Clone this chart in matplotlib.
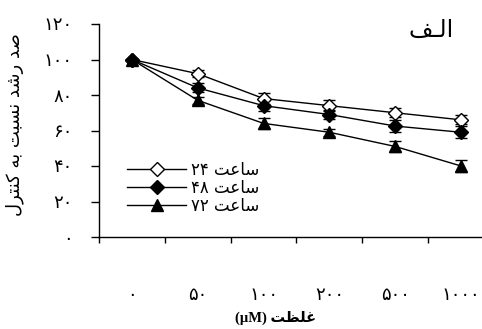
import matplotlib
matplotlib.use("Agg")
import matplotlib.pyplot as plt
from matplotlib.lines import Line2D

# ---------------- data ----------------
categories = ['۰', '۵۰', '۱۰۰', '۲۰۰', '۵۰۰', '۱۰۰۰']
h24 = [100, 92, 78, 74, 70, 66]
h48 = [100, 84, 74, 69, 62.5, 59]
h72 = [100, 77, 64, 59, 51, 40]
e24 = [0.5, 2, 3, 3, 2.5, 2.5]
e48 = [0.5, 2.5, 3, 2.5, 3.5, 3.5]
e72 = [0.5, 2, 3, 2, 3, 3.5]
series_labels = ['ساعت ۲۴', 'ساعت ۴۸', 'ساعت ۷۲']
yticks = [0, 20, 40, 60, 80, 100, 120]
ytick_labels = ['۰', '۲۰', '۴۰', '۶۰', '۸۰', '۱۰۰', '۱۲۰']
ylabel = 'صد رشد نسبت به کنترل'
xlabel = 'غلظت (µM)'
title = 'الـف'

# ---------------- minimal Arabic shaping for display ----------------
FORMS = {
    'ا': ('\uFE8D', '\uFE8E', '\uFE8D', '\uFE8E'),
    'ب': ('\uFE8F', '\uFE90', '\uFE91', '\uFE92'),
    'ت': ('\uFE95', '\uFE96', '\uFE97', '\uFE98'),
    'د': ('\uFEA9', '\uFEAA', '\uFEA9', '\uFEAA'),
    'ر': ('\uFEAD', '\uFEAE', '\uFEAD', '\uFEAE'),
    'س': ('\uFEB1', '\uFEB2', '\uFEB3', '\uFEB4'),
    'ش': ('\uFEB5', '\uFEB6', '\uFEB7', '\uFEB8'),
    'ص': ('\uFEB9', '\uFEBA', '\uFEBB', '\uFEBC'),
    'ظ': ('\uFEC5', '\uFEC6', '\uFEC7', '\uFEC8'),
    'ع': ('\uFEC9', '\uFECA', '\uFECB', '\uFECC'),
    'غ': ('\uFECD', '\uFECE', '\uFECF', '\uFED0'),
    'ف': ('\uFED1', '\uFED2', '\uFED3', '\uFED4'),
    'ل': ('\uFEDD', '\uFEDE', '\uFEDF', '\uFEE0'),
    'ن': ('\uFEE5', '\uFEE6', '\uFEE7', '\uFEE8'),
    'ه': ('\uFEE9', '\uFEEA', '\uFEEB', '\uFEEC'),
    'ک': ('\uFB8E', '\uFB8F', '\uFB90', '\uFB91'),
}
RIGHT_ONLY = set('اآأإدذرزژو')
TATWEEL = '\u0640'


def _dual(c):
    return c == TATWEEL or (c in FORMS and c not in RIGHT_ONLY)


def _joining(c):
    return c == TATWEEL or c in FORMS


def _shape_word(w):
    out = []
    for i, c in enumerate(w):
        if c not in FORMS:
            out.append(c)
            continue
        prev = w[i - 1] if i > 0 else None
        nxt = w[i + 1] if i + 1 < len(w) else None
        jp = prev is not None and _dual(prev)
        jn = _dual(c) and nxt is not None and _joining(nxt)
        iso, fin, ini, med = FORMS[c]
        if jp and jn:
            out.append(med)
        elif jp:
            out.append(fin)
        elif jn:
            out.append(ini)
        else:
            out.append(iso)
    return ''.join(reversed(out))


def vis(text):
    toks = text.split(' ')
    res = []
    for t in reversed(toks):
        if any(ch in FORMS or ch == TATWEEL for ch in t):
            res.append(_shape_word(t))
        else:
            res.append(t)
    return ' '.join(res)


# ---------------- figure ----------------
plt.rcParams['font.family'] = ['Liberation Serif', 'DejaVu Sans']
fig = plt.figure(figsize=(4.82, 3.29), dpi=100)
ax = fig.add_axes([99 / 482, 92 / 329, 395 / 482, 213 / 329])

x = list(range(len(categories)))
common = dict(color='black', lw=1.0, capsize=4.5, elinewidth=1.0, capthick=1.0)
ax.errorbar(x, h24, yerr=e24, marker='D', ms=7, mfc='white', mec='black', mew=1.0,
            label=vis(series_labels[0]), **common)
ax.errorbar(x, h48, yerr=e48, marker='D', ms=7, mfc='black', mec='black',
            label=vis(series_labels[1]), **common)
ax.errorbar(x, h72, yerr=e72, marker='^', ms=9, mfc='black', mec='black',
            label=vis(series_labels[2]), **common)

ax.set_xlim(-0.5, len(categories) - 0.5)
ax.set_ylim(0, 120)
ax.spines['top'].set_visible(False)
ax.spines['right'].set_visible(False)
ax.spines['left'].set_linewidth(1.0)
ax.spines['bottom'].set_linewidth(1.0)

ax.set_yticks(yticks)
ax.set_yticklabels(ytick_labels, fontsize=13)
ax.tick_params(axis='y', direction='out', length=6, width=1.0, pad=13)

ax.set_xticks(x)
ax.set_xticklabels(categories, fontsize=13)
ax.tick_params(axis='x', which='major', length=0, pad=36)
ax.set_xticks([i - 0.5 for i in range(len(categories) + 1)], minor=True)
ax.tick_params(axis='x', which='minor', direction='out', length=4, width=1.0)

handles = [
    Line2D([], [], color='black', lw=1.0, marker='D', ms=7, mfc='white', mec='black'),
    Line2D([], [], color='black', lw=1.0, marker='D', ms=7, mfc='black', mec='black'),
    Line2D([], [], color='black', lw=1.0, marker='^', ms=9, mfc='black', mec='black'),
]
ax.legend(handles, [vis(s) for s in series_labels], loc='upper left',
          bbox_to_anchor=(0.055, 0.39), frameon=False,
          handlelength=3.5, handletextpad=0.3, labelspacing=0.0,
          borderaxespad=0, prop={'family': ['DejaVu Sans'], 'size': 12})

fig.text(15 / 482, 1 - 125 / 329, vis(ylabel), rotation=90, ha='center', va='center',
         fontsize=13, family=['DejaVu Sans'])
fig.text(276 / 482, 1 - 318 / 329, vis(xlabel), ha='center', va='center',
         fontsize=10.5, fontweight='bold')
fig.text(431 / 482, 1 - 30 / 329, vis(title), ha='center', va='center',
         fontsize=17, family=['DejaVu Sans'])

fig.savefig('out.png', dpi=100)
